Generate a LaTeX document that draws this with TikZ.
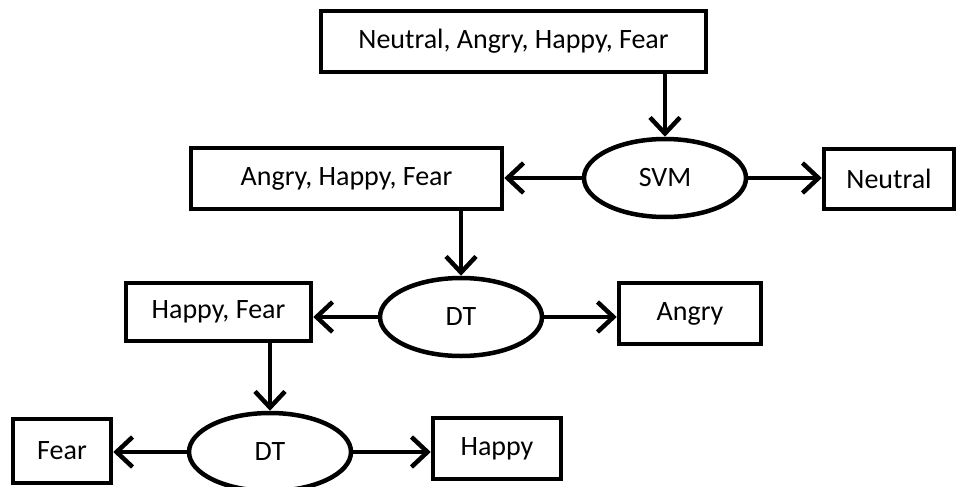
\documentclass[tikz,border=0pt]{standalone}
\usepackage{fontspec}
\setmainfont{Carlito}
\usetikzlibrary{shapes.geometric,arrows.meta}

\begin{document}
\begin{tikzpicture}[x=1pt, y=-1pt]
  \tikzset{
    box/.style={draw, line width=4.5pt, rectangle, inner sep=0pt, font=\fontsize{28}{32}\selectfont},
    decision/.style={draw, line width=4.5pt, ellipse, inner sep=0pt, minimum width=162pt, minimum height=78pt, font=\fontsize{28}{32}\selectfont},
    arrow/.style={line width=4.5pt, -{Straight Barb[length=16pt, width=30pt, line width=4.5pt]}}
  }
  \useasboundingbox (0,0) rectangle (958,487);

  % First level (SVM)
  \node[box, minimum width=385pt, minimum height=61pt] (all) at (513.5,41.5) {Neutral, Angry, Happy, Fear};
  \node[decision] (svm) at (665,178) {SVM};
  \node[box, minimum width=311pt, minimum height=61pt] (ahf) at (346.5,178.5) {Angry, Happy, Fear};
  \node[box, minimum width=130pt, minimum height=60pt] (neutral) at (889,179) {Neutral};

  % Second level (DT)
  \node[decision] (dta) at (461,317) {DT};
  \node[box, minimum width=185pt, minimum height=58pt] (hf) at (218.5,312) {Happy, Fear};
  \node[box, minimum width=142pt, minimum height=61pt] (angry) at (690,313.5) {Angry};

  % Third level (DT)
  \node[decision] (dtb) at (270,452) {DT};
  \node[box, minimum width=98pt, minimum height=64pt] (fear) at (62,451) {Fear};
  \node[box, minimum width=128pt, minimum height=61pt] (happy) at (497,448.5) {Happy};

  % Connectors
  \draw[arrow] (all.south -| svm.north) -- (svm.north);
  \draw[arrow] (svm.west) -- (ahf.east |- svm.west);
  \draw[arrow] (svm.east) -- (neutral.west |- svm.east);
  \draw[arrow] (ahf.south -| dta.north) -- (dta.north);
  \draw[arrow] (dta.west) -- (hf.east |- dta.west);
  \draw[arrow] (dta.east) -- (angry.west |- dta.east);
  \draw[arrow] (hf.south -| dtb.north) -- (dtb.north);
  \draw[arrow] (dtb.west) -- (fear.east |- dtb.west);
  \draw[arrow] (dtb.east) -- (happy.west |- dtb.east);
\end{tikzpicture}
\end{document}
